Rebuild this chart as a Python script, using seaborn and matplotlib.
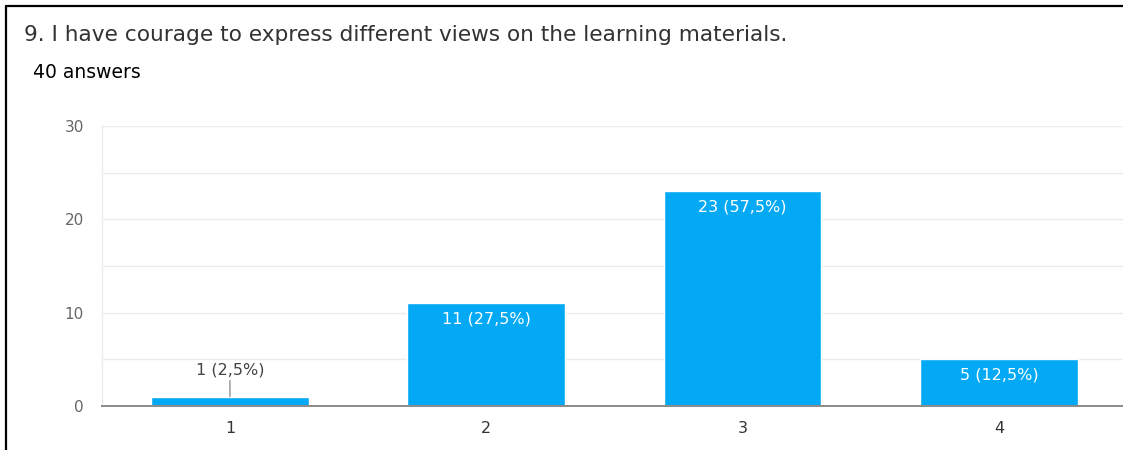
import matplotlib
matplotlib.use("Agg")
import matplotlib.pyplot as plt
from matplotlib.lines import Line2D
import seaborn as sns
import pandas as pd

# ---- data ----
categories = ["1", "2", "3", "4"]
counts = [1, 11, 23, 5]
labels = ["1 (2,5%)", "11 (27,5%)", "23 (57,5%)", "5 (12,5%)"]
title = "9. I have courage to express different views on the learning materials."
subtitle = "40 answers"
y_ticks = [0, 10, 20, 30]

sns.set_theme(style="white")
plt.rcParams["font.family"] = ["DejaVu Sans"]

W, H = 1123, 450
fig = plt.figure(figsize=(W / 100, H / 100), dpi=100)
fig.patch.set_facecolor("white")

ax = fig.add_axes([101.8 / W, (H - 406) / H, (1127 - 101.8) / W, (406 - 126) / H])
df = pd.DataFrame({"cat": categories, "n": counts})
sns.barplot(data=df, x="cat", y="n", order=categories, color="#03A9F4",
            saturation=1, width=0.616, ax=ax, zorder=3)

ax.set_xlim(-0.5, 3.5)
ax.set_ylim(0, 30)
ax.set_yticks(y_ticks)
ax.set_yticks([5, 15, 25], minor=True)
ax.grid(True, axis="y", which="both", color="#ececec", linewidth=1.0, zorder=0)
ax.set_axisbelow(True)
ax.set_xlabel("")
ax.set_ylabel("")
for s in ["top", "right"]:
    ax.spines[s].set_visible(False)
ax.spines["left"].set_color("#ececec")
ax.spines["left"].set_linewidth(1.0)
ax.spines["bottom"].set_color("#8a8a8a")
ax.spines["bottom"].set_linewidth(1.4)
ax.spines["bottom"].set_zorder(5)
ax.tick_params(axis="y", which="both", length=0, pad=13, labelsize=11, labelcolor="#666666")
ax.tick_params(axis="x", length=0, pad=11, labelsize=11.5, labelcolor="#333333")

for i, (v, lab) in enumerate(zip(counts, labels)):
    if v >= 3:
        ax.annotate(lab, xy=(i, v), xytext=(0, -6), textcoords="offset points",
                    ha="center", va="top", color="white", fontsize=11.5, zorder=6)
    else:
        ax.annotate(lab, xy=(i, v), xytext=(0, 14), textcoords="offset points",
                    ha="center", va="bottom", color="#444444", fontsize=11.5, zorder=6,
                    arrowprops=dict(arrowstyle="-", color="#777777", lw=0.8,
                                    shrinkA=0, shrinkB=0))

fig.text(24 / W, 1 - 35 / H, title, ha="left", va="center", fontsize=15.6,
         color="#333333")
fig.text(33 / W, 1 - 73 / H, subtitle, ha="left", va="center", fontsize=13.5,
         color="#000000")

# frame lines (top and left)
fig.add_artist(Line2D([6 / W, 1], [1 - 6 / H, 1 - 6 / H], transform=fig.transFigure,
                      color="black", linewidth=1.6))
fig.add_artist(Line2D([6 / W, 6 / W], [0, 1 - 6 / H], transform=fig.transFigure,
                      color="black", linewidth=1.6))

fig.savefig("out.png", dpi=100, facecolor="white")
